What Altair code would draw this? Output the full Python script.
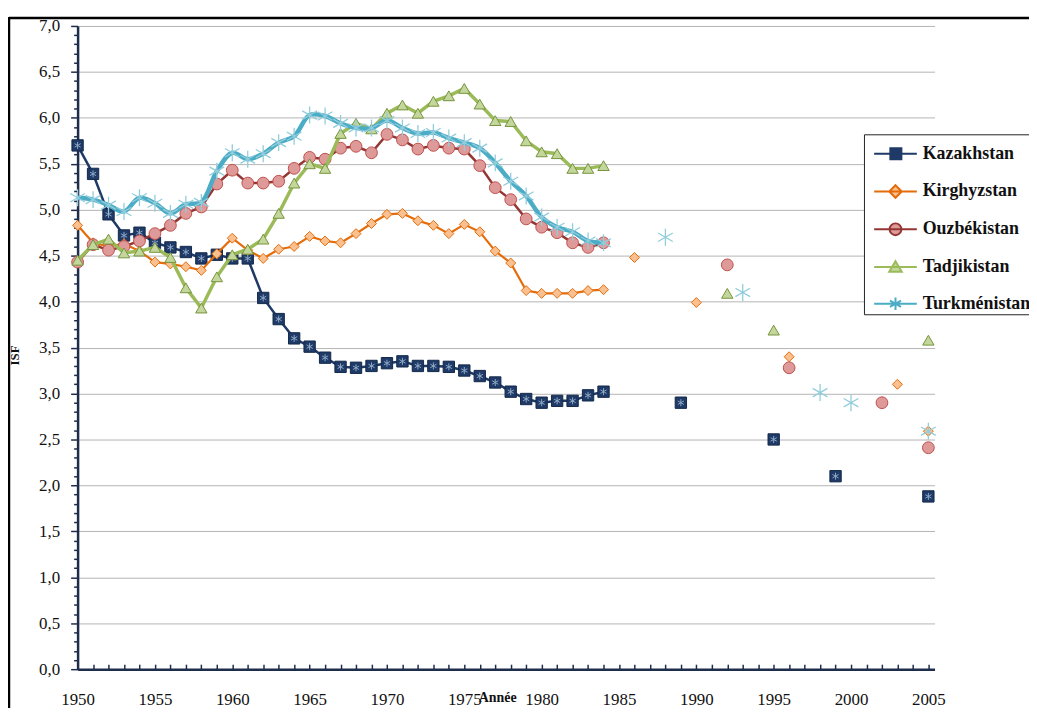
import altair as alt
import pandas as pd

# ---------------- data ----------------
years = list(range(1950, 1985))

kazakhstan = [5.70, 5.39, 4.95, 4.72, 4.75, 4.64, 4.59, 4.54, 4.47, 4.51, 4.47, 4.47, 4.04, 3.81, 3.60,
              3.51, 3.39, 3.29, 3.28, 3.30, 3.33, 3.35, 3.30, 3.30, 3.29, 3.25, 3.19, 3.12, 3.02, 2.94,
              2.90, 2.92, 2.92, 2.98, 3.02]
kirghyzstan = [4.83, 4.64, 4.60, 4.63, 4.55, 4.43, 4.41, 4.38, 4.34, 4.52, 4.69, 4.56, 4.47, 4.57, 4.60,
               4.71, 4.66, 4.64, 4.74, 4.85, 4.95, 4.96, 4.88, 4.83, 4.74, 4.84, 4.76, 4.55, 4.42, 4.12,
               4.09, 4.09, 4.09, 4.12, 4.13]
ouzbekistan = [4.43, 4.62, 4.56, 4.60, 4.66, 4.74, 4.83, 4.96, 5.03, 5.28, 5.43, 5.29, 5.29, 5.31, 5.45,
               5.57, 5.55, 5.67, 5.69, 5.62, 5.82, 5.76, 5.66, 5.70, 5.67, 5.66, 5.48, 5.24, 5.11, 4.90,
               4.81, 4.75, 4.64, 4.59, 4.64]
tadjikistan = [4.45, 4.62, 4.68, 4.53, 4.55, 4.59, 4.48, 4.15, 3.93, 4.27, 4.51, 4.57, 4.68, 4.96, 5.29,
               5.50, 5.45, 5.83, 5.94, 5.88, 6.05, 6.14, 6.05, 6.18, 6.24, 6.32, 6.15, 5.97, 5.96, 5.75,
               5.63, 5.61, 5.45, 5.45, 5.48]
turkmenistan = [5.13, 5.11, 5.05, 4.98, 5.13, 5.07, 4.96, 5.06, 5.08, 5.42, 5.62, 5.55, 5.61, 5.73, 5.80,
                6.03, 6.02, 5.94, 5.89, 5.89, 5.97, 5.89, 5.83, 5.84, 5.78, 5.73, 5.67, 5.51, 5.31, 5.15,
                4.92, 4.81, 4.76, 4.66, 4.64]

kaz_extra_years = [1989, 1995, 1999, 2005]
kaz_extra = [2.90, 2.50, 2.10, 1.88]
kir_extra_years = [1986, 1990, 1996, 2003, 2005]
kir_extra = [4.48, 3.99, 3.40, 3.10, 2.59]
ouz_extra_years = [1992, 1996, 2002, 2005]
ouz_extra = [4.40, 3.28, 2.90, 2.41]
tad_extra_years = [1992, 1995, 2005]
tad_extra = [4.09, 3.69, 3.58]
tur_extra_years = [1988, 1993, 1998, 2000, 2005]
tur_extra = [4.70, 4.10, 3.01, 2.90, 2.59]

names = ["Kazakhstan", "Kirghyzstan", "Ouzbékistan", "Tadjikistan", "Turkménistan"]

# ---------------- styles ----------------
SERIF = "Liberation Serif, Times New Roman, serif"
AX = "#1F2D4D"
line_colors = ["#1F3A66", "#E46C0A", "#943634", "#9BBB59", "#4BACC6"]
fill_colors = ["#1F3A66", "#FAC090", "#DE9A98", "#C3D69B", "#92CDDC"]
mark_strokes = ["#13294B", "#E46C0A", "#C0504D", "#77933C", "#92CDDC"]

STAR = "M0,-1L0,1M-0.87,-0.5L0.87,0.5M-0.87,0.5L0.87,-0.5"
legend_paths = [
    "M-0.5,0L1.82,0M0.38,-0.3L0.98,-0.3L0.98,0.3L0.38,0.3Z",
    "M-0.5,0L1.82,0M0.66,-0.34L1.0,0L0.66,0.34L0.32,0Z",
    "M-0.5,0L1.82,0M0.34,0A0.32,0.32 0 1,0 0.98,0A0.32,0.32 0 1,0 0.34,0Z",
    "M-0.5,0L1.82,0M0.66,-0.32L1.0,0.26L0.32,0.26Z",
    "M-0.5,0L1.82,0M0.66,-0.34L0.66,0.34M0.36,-0.17L0.96,0.17M0.36,0.17L0.96,-0.17",
]

major_test = "abs(datum.value*2 - round(datum.value*2)) < 0.001"

xaxis = alt.Axis(
    values=list(range(1950, 2006)),
    format="d",
    labelExpr="datum.value % 5 == 0 ? datum.label : ''",
    labelOverlap=False,
    labelFlush=False,
    grid=False,
    domainColor=AX, domainWidth=2.5,
    tickColor=AX, tickWidth=1.5, tickSize={"expr": "-5"},
    labelFont=SERIF, labelFontSize=17, labelColor="#111", labelPadding=28,
    title="Année", titleFont=SERIF, titleFontSize=14, titleFontWeight="bold",
    titleColor="#111", titleX=422, titleY=36, titleBaseline="bottom",
)
yaxis = alt.Axis(
    values=[round(i * 0.1, 1) for i in range(71)],
    labelExpr=major_test + " ? replace(format(datum.value, '.1f'), '.', ',') : ''",
    labelOverlap=False,
    labelFlush=False,
    grid=True, gridColor="#B4B4B4", gridWidth=1,
    gridOpacity={"condition": {"test": major_test + " && datum.value > 0.01", "value": 1}, "value": 0},
    domainColor=AX, domainWidth=2.5,
    tickColor=AX, tickWidth=1.5,
    tickSize={"condition": {"test": major_test, "value": 7}, "value": 4},
    labelFont=SERIF, labelFontSize=17, labelColor="#111", labelPadding=11,
    title="ISF", titleFont=SERIF, titleFontSize=13, titleFontWeight="bold",
    titleColor="#111", titleX=-56, titleY=331,
)

X = alt.X("year:Q", scale=alt.Scale(domain=[1950, 2005.4], nice=False, zero=False), axis=xaxis)
Y = alt.Y("isf:Q", scale=alt.Scale(domain=[0, 7], nice=False), axis=yaxis)


def line_df(vals):
    return pd.DataFrame({"year": years, "isf": vals})


def point_df(vals, ey, ev):
    return pd.DataFrame({"year": years + ey, "isf": vals + ev})


series = [
    (kazakhstan, kaz_extra_years, kaz_extra),
    (kirghyzstan, kir_extra_years, kir_extra),
    (ouzbekistan, ouz_extra_years, ouz_extra),
    (tadjikistan, tad_extra_years, tad_extra),
    (turkmenistan, tur_extra_years, tur_extra),
]
line_widths = [2.5, 2.2, 2.5, 3.5, 4.5]
shapes = ["square", "diamond", "circle", "triangle-up", STAR]
sizes = [130, 100, 140, 130, 290]

layers = []
for i, (vals, ey, ev) in enumerate(series):
    interp = "catmull-rom" if i == 4 else "linear"
    ln = alt.Chart(line_df(vals)).mark_line(
        color=line_colors[i], strokeWidth=line_widths[i], interpolate=interp
    ).encode(x=X, y=Y)
    layers.append(ln)
    pdf = point_df(vals, ey, ev)
    if i == 4:
        pt = alt.Chart(pdf).mark_point(
            shape=STAR, filled=False, stroke=mark_strokes[i], strokeWidth=1.3,
            size=sizes[i], opacity=1
        ).encode(x=X, y=Y)
        layers.append(pt)
    else:
        pt = alt.Chart(pdf).mark_point(
            shape=shapes[i], filled=True, fill=fill_colors[i], stroke=mark_strokes[i],
            strokeWidth=1, size=sizes[i], opacity=1
        ).encode(x=X, y=Y)
        layers.append(pt)
        if i == 0:
            st = alt.Chart(pdf).mark_point(
                shape=STAR, filled=False, stroke="#8EA9C8", strokeWidth=1,
                size=50, opacity=1
            ).encode(x=X, y=Y)
            layers.append(st)

# legend (from a layer without marks; the scales carry the entries)
legend = alt.Legend(
    title=None, orient="none", legendX=791, legendY=109,
    strokeColor="#222", padding=0, rowPadding=8,
    symbolSize=1369, symbolStrokeWidth=2, symbolOpacity=1,
    labelFont=SERIF, labelFontSize=18, labelFontWeight="bold", labelColor="#111",
    labelOffset=20, fillColor="white",
    labelExpr="datum.label + '\u00a0\u00a0'",
)
leg_df = pd.DataFrame({"country": names, "year": [1950] * 5, "isf": [0.0] * 5})
leg_layer = alt.Chart(leg_df).transform_filter("false").mark_point(filled=True).encode(
    x=X, y=Y,
    shape=alt.Shape("country:N", scale=alt.Scale(domain=names, range=legend_paths), legend=legend),
    fill=alt.Fill("country:N", scale=alt.Scale(domain=names, range=fill_colors), legend=legend),
    stroke=alt.Stroke("country:N", scale=alt.Scale(domain=names, range=line_colors), legend=legend),
)
layers.append(leg_layer)

# picture frame (decorative border of the original figure)
one = pd.DataFrame({"a": [0]})
frame_top = alt.Chart(one).mark_rule(color="#000", strokeWidth=2.5, clip=False).encode(
    x=alt.value(-69), x2=alt.value(960), y=alt.value(-8))
frame_left = alt.Chart(one).mark_rule(color="#000", strokeWidth=2.5, clip=False).encode(
    x=alt.value(-69), y=alt.value(-9), y2=alt.value(700))
layers = [frame_top, frame_left] + layers

chart = alt.layer(*layers).properties(
    width=862, height=647,
    padding={"left": 70, "top": 16, "right": 95, "bottom": 37},
    autosize=alt.AutoSizeParams(type="none"),
    background="white",
).configure_view(stroke=None)

chart.save("out.html", embed_options={"renderer": "svg", "actions": False})
